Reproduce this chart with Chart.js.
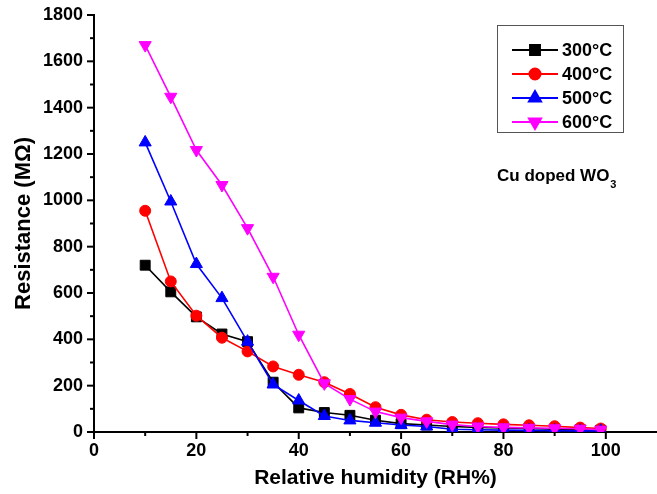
<!DOCTYPE html>
<html>
<head>
<meta charset="utf-8">
<script src="https://cdn.jsdelivr.net/npm/chart.js@4"></script>
<style>
  body { margin: 0; background: #fff; }
  #wrap { width: 657px; height: 494px; }
</style>
</head>
<body>
<div id="wrap"><canvas id="rhChart" width="657" height="494"></canvas></div>
<script>
// humidity steps (RH%) and resistance (MOhm) for each annealing temp
const humidity = [10, 15, 20, 25, 30, 35, 40, 45, 50, 55, 60, 65, 70, 75, 80, 85, 90, 95, 99];
const r300 = [720, 605, 497, 423, 390, 215, 104, 84, 72, 51, 36, 30, 24, 20, 17, 15, 12, 10, 8];
const r400 = [955, 650, 502, 407, 348, 283, 247, 215, 164, 107, 74, 53, 43, 38, 33, 29, 25, 19, 15];
const r500 = [1250, 995, 725, 578, 390, 205, 136, 69, 50, 40, 30, 24, 12, 10, 8, 7, 6, 5, 5];
const r600 = [1670, 1447, 1217, 1066, 880, 670, 420, 210, 142, 88, 62, 46, 32, 24, 20, 18, 16, 14, 10];
const seriesLabels = ["300\u00B0C", "400\u00B0C", "500\u00B0C", "600\u00B0C"];
const xMajor = [0, 20, 40, 60, 80, 100];
const yMajor = [0, 200, 400, 600, 800, 1000, 1200, 1400, 1600, 1800];

const FONT = "'Liberation Sans', Arial, sans-serif";

function toPoints(ys) {
  return humidity.map((x, i) => ({ x: x, y: ys[i] }));
}

function makeSet(label, ys, color, style, radius, rot, order) {
  return {
    label: label,
    data: toPoints(ys),
    borderColor: color,
    backgroundColor: color,
    pointBackgroundColor: color,
    pointBorderColor: color,
    borderWidth: 1.6,
    pointStyle: style,
    pointRadius: radius,
    pointRotation: rot,
    pointBorderWidth: 1,
    tension: 0,
    order: order,
  };
}

// ticks drawn by hand so minor ones can be shorter
const tickPlugin = {
  id: "ticks",
  afterDraw(chart) {
    const ctx = chart.ctx;
    const xs = chart.scales.x, ys = chart.scales.y;
    const area = chart.chartArea;
    ctx.save();
    ctx.strokeStyle = "#000";
    ctx.lineWidth = 2;
    for (let v = 0; v <= 100; v += 10) {
      const px = xs.getPixelForValue(v);
      const len = v % 20 === 0 ? 7 : 4;
      ctx.beginPath();
      ctx.moveTo(px, area.bottom);
      ctx.lineTo(px, area.bottom + len);
      ctx.stroke();
    }
    for (let v = 0; v <= 1800; v += 100) {
      const py = ys.getPixelForValue(v);
      const len = v % 200 === 0 ? 7 : 4;
      ctx.beginPath();
      ctx.moveTo(area.left, py);
      ctx.lineTo(area.left - len, py);
      ctx.stroke();
    }
    ctx.restore();
  },
};

// boxed legend with line + marker samples, plus the sample note
const legendPlugin = {
  id: "boxLegend",
  afterDraw(chart) {
    const ctx = chart.ctx;
    ctx.save();
    ctx.strokeStyle = "#555";
    ctx.lineWidth = 1;
    ctx.strokeRect(497.5, 25.5, 126, 107);
    ctx.font = "bold 18px " + FONT;
    ctx.textBaseline = "middle";
    chart.data.datasets.forEach((ds, i) => {
      const y = 50 + i * 24;
      ctx.strokeStyle = ds.borderColor;
      ctx.lineWidth = 2;
      ctx.beginPath();
      ctx.moveTo(512, y);
      ctx.lineTo(558, y);
      ctx.stroke();
      Chart.helpers.drawPoint(ctx, {
        pointStyle: ds.pointStyle,
        radius: ds.pointRadius,
        rotation: ds.pointRotation,
        borderWidth: 1,
      }, 535, y);
      ctx.fillStyle = ds.borderColor;
      ctx.fill();
      ctx.fillStyle = "#000";
      ctx.fillText(ds.label, 562, y + 1);
    });
    ctx.fillStyle = "#000";
    ctx.font = "bold 17px " + FONT;
    ctx.textBaseline = "alphabetic";
    const note = "Cu doped WO";
    ctx.fillText(note, 497, 181);
    const w = ctx.measureText(note).width;
    ctx.font = "bold 11px " + FONT;
    ctx.fillText("3", 497 + w + 1, 188);
    ctx.restore();
  },
};

new Chart(document.getElementById("rhChart"), {
  type: "line",
  data: {
    datasets: [
      makeSet(seriesLabels[0], r300, "#000000", "rect", 7, 0, 4),
      makeSet(seriesLabels[1], r400, "#ff0000", "circle", 5.5, 0, 3),
      makeSet(seriesLabels[2], r500, "#0000ff", "triangle", 7, 0, 2),
      makeSet(seriesLabels[3], r600, "#ff00ff", "triangle", 7, 180, 1),
    ],
  },
  options: {
    responsive: false,
    animation: false,
    layout: { autoPadding: false, padding: { top: 15, right: 0, left: 0, bottom: 0 } },
    plugins: {
      legend: { display: false },
      tooltip: { enabled: false },
    },
    scales: {
      x: {
        type: "linear",
        min: 0,
        max: 110,
        afterBuildTicks: (s) => { s.ticks = xMajor.map((v) => ({ value: v })); },
        afterFit: (s) => { s.height = 62; s.paddingLeft = 0; s.paddingRight = 0; },
        grid: { display: true, drawOnChartArea: false, drawTicks: true, tickLength: 7, tickColor: "rgba(0,0,0,0)" },
        border: { display: true, color: "#000", width: 2 },
        ticks: {
          color: "#000",
          padding: 1,
          maxRotation: 0,
          font: { family: FONT, size: 18, weight: "bold" },
          callback: (v) => String(v),
        },
        title: {
          display: true,
          text: "Relative humidity (RH%)",
          color: "#000",
          padding: { top: 0, bottom: 3 },
          font: { family: FONT, size: 21, weight: "bold" },
        },
      },
      y: {
        type: "linear",
        min: 0,
        max: 1800,
        afterBuildTicks: (s) => { s.ticks = yMajor.map((v) => ({ value: v })); },
        afterFit: (s) => { s.width = 94; s.paddingTop = 0; s.paddingBottom = 0; },
        grid: { display: true, drawOnChartArea: false, drawTicks: true, tickLength: 7, tickColor: "rgba(0,0,0,0)" },
        border: { display: true, color: "#000", width: 2 },
        ticks: {
          color: "#000",
          padding: 4,
          font: { family: FONT, size: 18, weight: "bold" },
          callback: (v) => String(v),
        },
        title: {
          display: true,
          text: "Resistance (M\u03A9)",
          color: "#000",
          padding: { top: 11, bottom: 0 },
          font: { family: FONT, size: 22, weight: "bold" },
        },
      },
    },
  },
  plugins: [tickPlugin, legendPlugin],
});
</script>
</body>
</html>
